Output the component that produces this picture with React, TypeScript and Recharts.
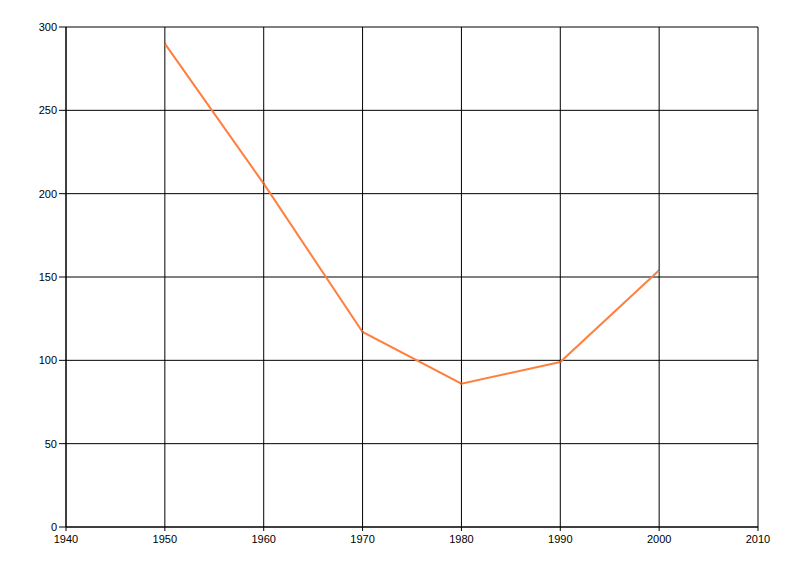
import React from 'react';
import { LineChart, Line, XAxis, YAxis, CartesianGrid } from 'recharts';

const years = [1950, 1960, 1970, 1980, 1990, 2000];
const values = [290, 206, 117, 86, 99, 154];
const xTicks = [1940, 1950, 1960, 1970, 1980, 1990, 2000, 2010];
const yTicks = [0, 50, 100, 150, 200, 250, 300];

const data = years.map((year, i) => ({ year, value: values[i] }));

const tickStyle = { fill: '#000', fontSize: 11, fontFamily: 'Liberation Sans, Arial, sans-serif' };

const App: React.FC = () => {
    return (
        <div style={{ position: 'fixed', left: 0, top: 0, width: 800, height: 576, background: '#fff' }}>
            <LineChart
                width={800}
                height={576}
                data={data}
                margin={{ top: 27, right: 42, left: 0, bottom: 0 }}
            >
                <CartesianGrid stroke="#000" strokeWidth={1} />
                <XAxis
                    dataKey="year"
                    type="number"
                    domain={[1940, 2010]}
                    ticks={xTicks}
                    interval={0}
                    height={49}
                    tick={tickStyle}
                    tickSize={4}
                    tickMargin={4}
                    stroke="#000"
                />
                <YAxis
                    type="number"
                    domain={[0, 300]}
                    ticks={yTicks}
                    interval={0}
                    width={66}
                    tick={tickStyle}
                    tickSize={7}
                    tickMargin={2}
                    stroke="#000"
                />
                <Line
                    type="linear"
                    dataKey="value"
                    stroke="#FF7F3F"
                    strokeWidth={2}
                    dot={{ r: 1, fill: '#666', stroke: 'none' }}
                    activeDot={false}
                    isAnimationActive={false}
                />
            </LineChart>
        </div>
    );
};

export default App;
